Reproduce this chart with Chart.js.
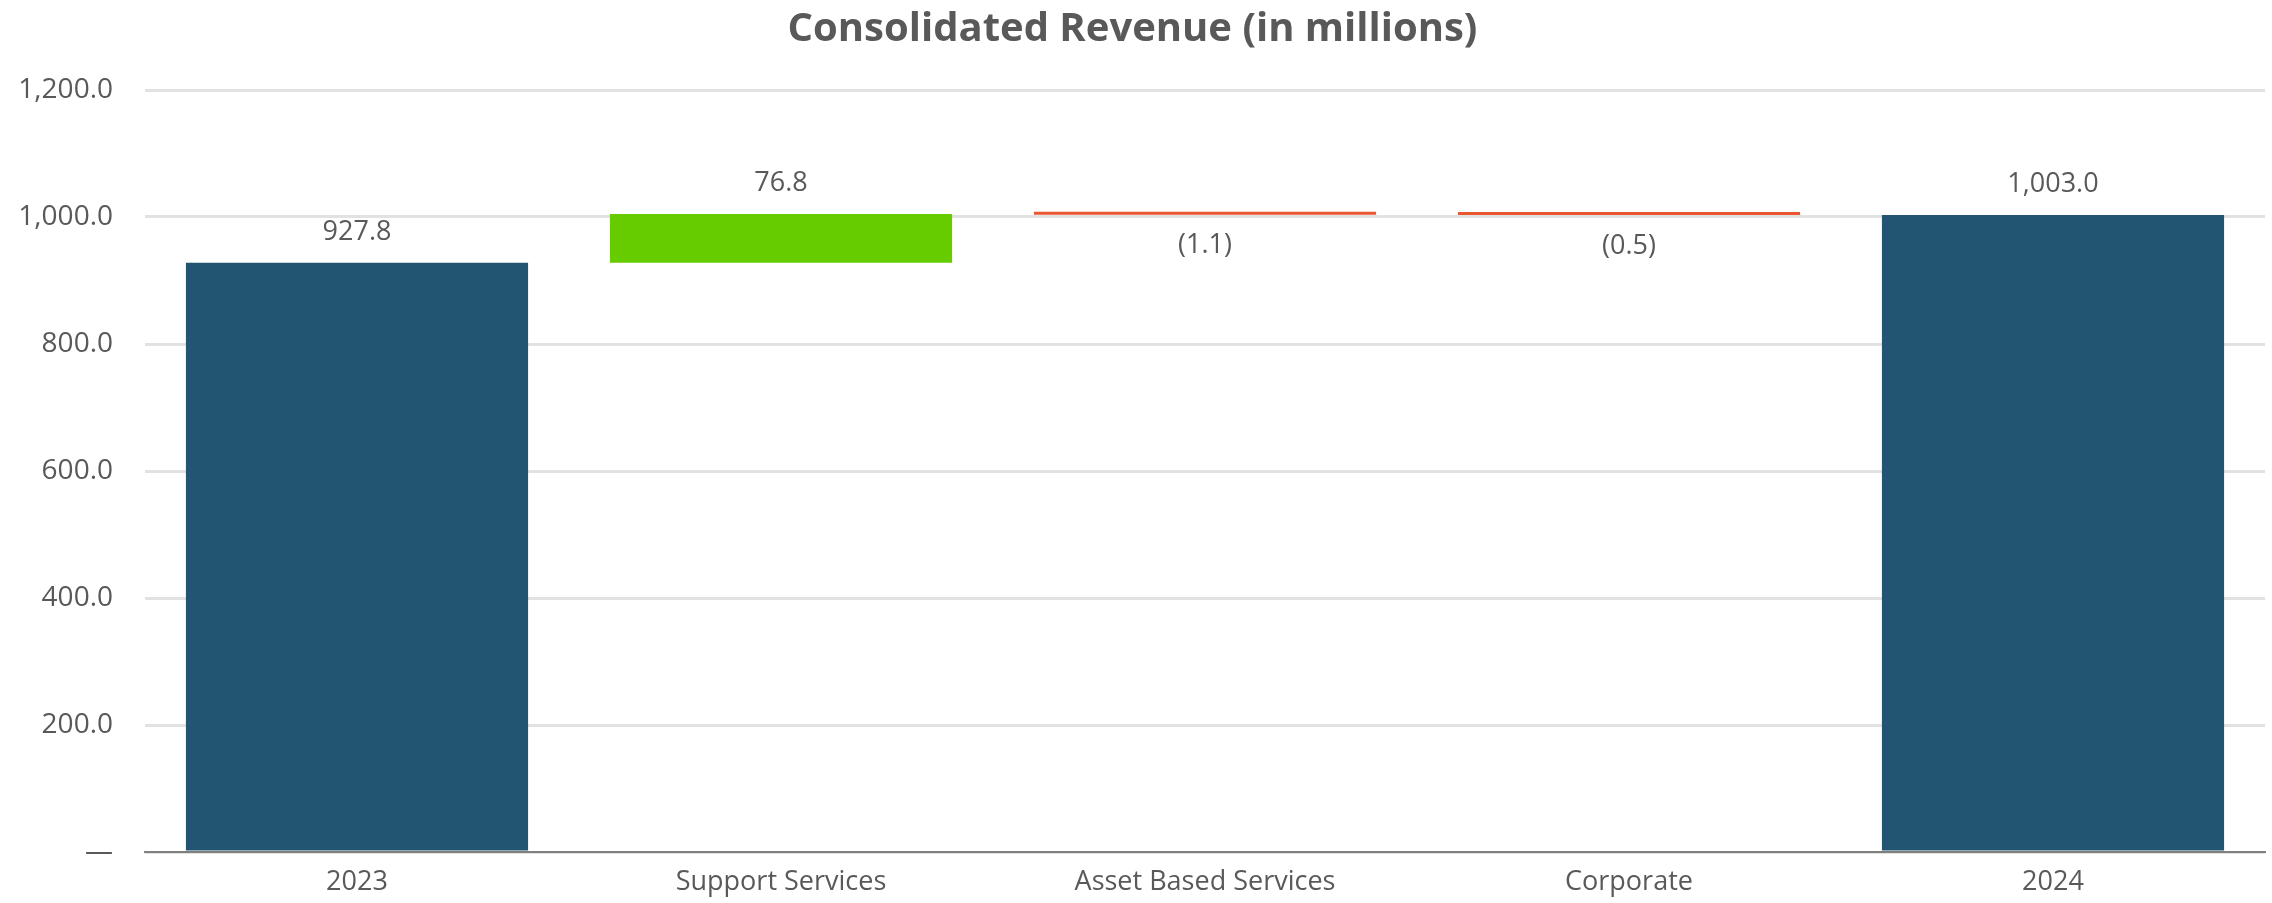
<!DOCTYPE html>
<html lang="en">
<head>
    <meta charset="UTF-8">
    <title>Consolidated Revenue</title>
    <script src="https://cdn.jsdelivr.net/npm/chart.js@4.4.1/dist/chart.umd.min.js"></script>
    <style>
        html, body {
            margin: 0;
            padding: 0;
            background: #ffffff;
        }
        #chart {
            display: block;
        }
    </style>
</head>
<body>
    <canvas id="chart" width="2272" height="903"></canvas>

    <script>
        // Waterfall data (in millions)
        const categories = ['2023', 'Support Services', 'Asset Based Services', 'Corporate', '2024'];
        const openingTotal = 927.8;
        const segmentChanges = [76.8, -1.1, -0.5];
        const closingTotal = 1003.0;
        const yTicks = [0, 200, 400, 600, 800, 1000, 1200];

        const totalColor = '#215572';
        const upColor = '#66cc00';
        const downColor = '#e9562f';
        const textColor = '#595959';

        // Build floating [from, to] ranges for each step
        const ranges = [[0, openingTotal]];
        const deltas = [openingTotal];
        let running = openingTotal;
        segmentChanges.forEach(change => {
            const next = Math.round((running + change) * 10) / 10;
            ranges.push([running, next]);
            deltas.push(change);
            running = next;
        });
        ranges.push([0, closingTotal]);
        deltas.push(closingTotal);

        const barColors = deltas.map((d, i) => {
            if (i === 0 || i === deltas.length - 1) return totalColor;
            return d >= 0 ? upColor : downColor;
        });

        function fmt(v) {
            const s = Math.abs(v).toLocaleString('en-US', { minimumFractionDigits: 1, maximumFractionDigits: 1 });
            return v < 0 ? '(' + s + ')' : s;
        }

        // Value labels above rising bars, below falling ones
        const valueLabels = {
            id: 'valueLabels',
            afterDatasetsDraw(chart) {
                const ctx = chart.ctx;
                const meta = chart.getDatasetMeta(0);
                ctx.save();
                ctx.font = '27px "Open Sans"';
                ctx.fillStyle = textColor;
                ctx.textAlign = 'center';
                ctx.textBaseline = 'middle';
                meta.data.forEach((bar, i) => {
                    const top = Math.min(bar.y, bar.base);
                    const bottom = Math.max(bar.y, bar.base);
                    const y = deltas[i] < 0 ? bottom + 31 : top - 31;
                    ctx.fillText(fmt(deltas[i]), bar.x, y);
                });
                ctx.restore();
            }
        };

        new Chart(document.getElementById('chart'), {
            type: 'bar',
            data: {
                labels: categories,
                datasets: [{
                    data: ranges,
                    backgroundColor: barColors,
                    borderWidth: 0,
                    minBarLength: 3,
                    categoryPercentage: 1,
                    barPercentage: 0.807
                }]
            },
            options: {
                responsive: false,
                animation: false,
                layout: {
                    padding: { left: 0, right: 7, top: 0, bottom: 0 }
                },
                plugins: {
                    legend: { display: false },
                    tooltip: { enabled: false },
                    title: {
                        display: true,
                        text: 'Consolidated Revenue (in millions)',
                        color: textColor,
                        font: { family: '"Open Sans"', size: 40, weight: 'bold', lineHeight: 1.2 },
                        padding: { top: 6, bottom: 36 }
                    }
                },
                scales: {
                    x: {
                        grid: { display: false, drawTicks: false },
                        border: { display: true, color: '#808080', width: 2 },
                        ticks: {
                            color: textColor,
                            font: { family: '"Open Sans"', size: 27 },
                            padding: 14,
                            maxRotation: 0
                        },
                        afterFit(scale) { scale.height = 51; }
                    },
                    y: {
                        min: 0,
                        max: 1200,
                        grid: { color: '#e2e2e2', lineWidth: 3, drawTicks: false },
                        border: { display: false },
                        afterBuildTicks(scale) {
                            scale.ticks = yTicks.map(v => ({ value: v }));
                        },
                        ticks: {
                            color: textColor,
                            font: { family: '"Open Sans"', size: 28 },
                            padding: 32,
                            callback: v => v === 0 ? '\u2014' : fmt(v)
                        },
                        afterFit(scale) { scale.width = 145; }
                    }
                }
            },
            plugins: [valueLabels]
        });
    </script>
</body>
</html>
